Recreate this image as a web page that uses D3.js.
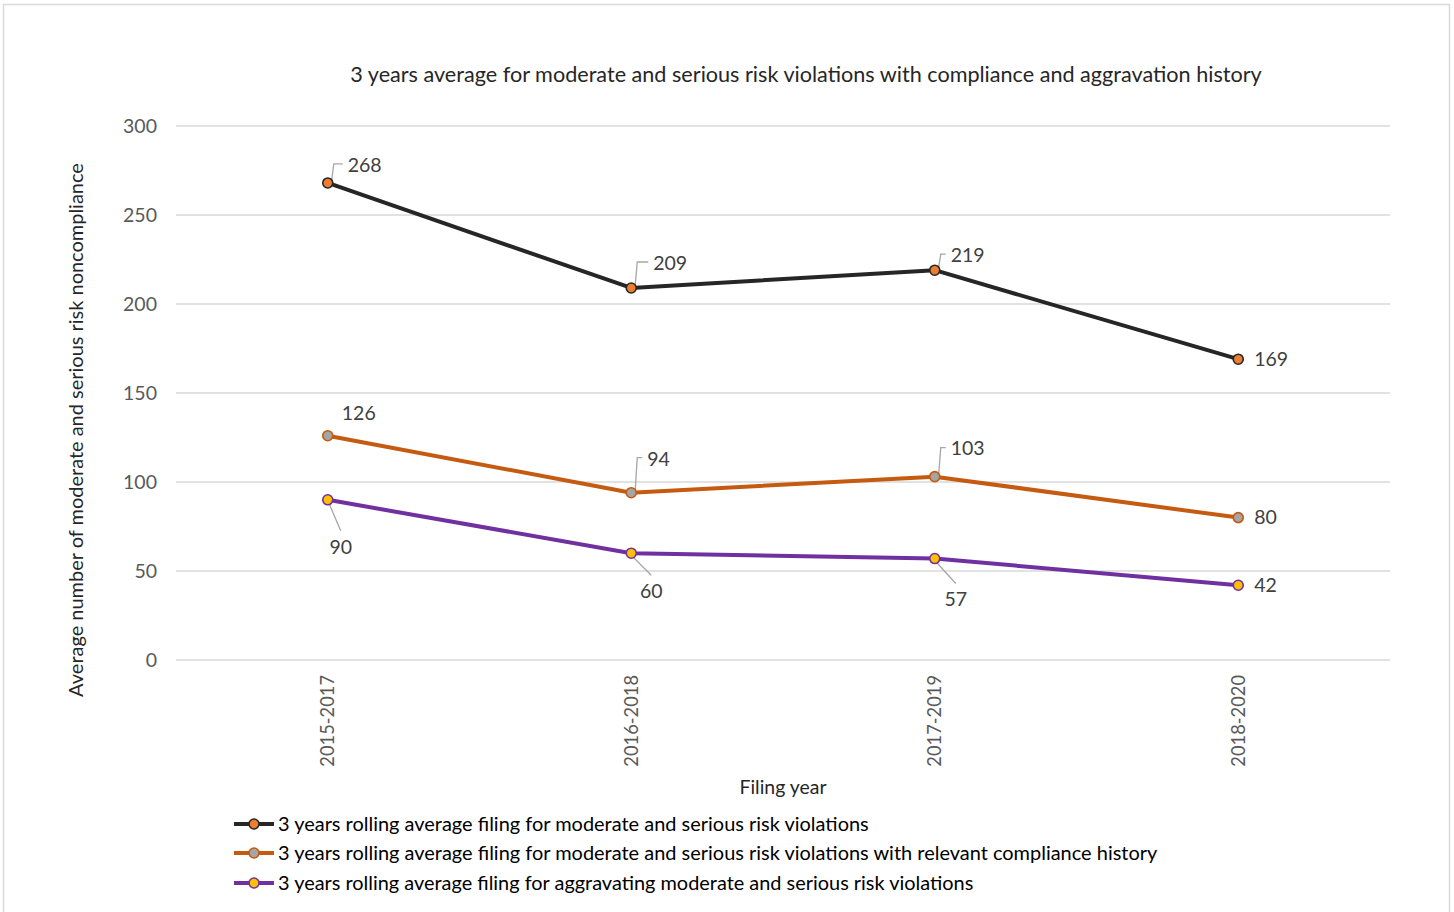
<!DOCTYPE html>
<html>
<head>
<meta charset="utf-8">
<script src="https://cdn.jsdelivr.net/npm/d3@7"></script>
<style>
  body { margin: 0; background: #fff; }
  text { font-family: Lato, "Noto Sans", sans-serif; }
</style>
</head>
<body>
<div id="chart"></div>
<script>
// chart data
var categories = ["2015-2017", "2016-2018", "2017-2019", "2018-2020"];
var seriesNames = [
  "3 years rolling average filing for moderate and serious risk violations",
  "3 years rolling average filing for moderate and serious risk violations with relevant compliance history",
  "3 years rolling average filing for aggravating moderate and serious risk violations"
];
var totalViolations = [268, 209, 219, 169];
var complianceHistory = [126, 94, 103, 80];
var aggravating = [90, 60, 57, 42];
var yTicks = [0, 50, 100, 150, 200, 250, 300];

var titleText = "3 years average for moderate and serious risk violations with compliance and aggravation history";
var xTitle = "Filing year";
var yTitle = "Average number of moderate and serious risk noncompliance";

// label placement: [dx, dy, leader type]
var labelLayout = [
  [[20, -18, "elbow"], [22, -25, "elbow"], [16, -15, "elbow"], [16, 0, "right"]],
  [[31, -23, "none"], [16, -34, "elbow"], [16, -28, "elbow"], [16, 0, "right"]],
  [[13, 47, "diag"], [20, 38, "diag"], [21, 41, "diag"], [16, 0, "right"]]
];

var lineColors = ["#262626", "#C55A11", "#7030A0"];
var markerFill = ["#ED7D31", "#A5A5A5", "#FFC000"];
var allSeries = [totalViolations, complianceHistory, aggravating];

var W = 1454, H = 912;
var plot = { left: 176, right: 1390, top: 126, bottom: 660 };

var svg = d3.select("#chart").append("svg")
  .attr("width", W).attr("height", H);

// outer frame
svg.append("rect")
  .attr("x", 3.5).attr("y", 4.5)
  .attr("width", 1446).attr("height", 920)
  .attr("fill", "#fff").attr("stroke", "#d9d9d9").attr("stroke-width", 1.5);

function fitText(sel, width) {
  var len = sel.node().getComputedTextLength();
  var fs = parseFloat(sel.attr("font-size"));
  sel.attr("font-size", fs * width / len);
}

var x = d3.scaleBand().domain(categories).range([plot.left, plot.right]);
var xc = function (c) { return x(c) + x.bandwidth() / 2; };
var y = d3.scaleLinear().domain([0, 300]).range([plot.bottom, plot.top]);

// gridlines
svg.append("g")
  .selectAll("line")
  .data(yTicks)
  .enter()
  .append("line")
  .attr("x1", plot.left).attr("x2", plot.right)
  .attr("y1", function (d) { return y(d); })
  .attr("y2", function (d) { return y(d); })
  .attr("stroke", "#d9d9d9").attr("stroke-width", 1.3);

// y axis labels
var yAxis = svg.append("g")
  .attr("transform", "translate(" + (plot.left - 10) + ",0)")
  .call(d3.axisLeft(y).tickValues(yTicks).tickSize(0).tickPadding(9));
yAxis.select(".domain").remove();
yAxis.selectAll("text")
  .attr("font-size", 19.5).attr("fill", "#595959")
  .style("font-family", "Lato, 'Noto Sans', sans-serif");

// x axis labels (rotated)
var xAxis = svg.append("g")
  .attr("transform", "translate(0," + plot.bottom + ")")
  .call(d3.axisBottom(x).tickSize(0).tickPadding(0));
xAxis.select(".domain").remove();
xAxis.selectAll("text")
  .attr("font-size", 18.3).attr("fill", "#595959")
  .style("font-family", "Lato, 'Noto Sans', sans-serif")
  .attr("transform", "rotate(-90)")
  .attr("text-anchor", "end")
  .attr("x", -15).attr("y", 0).attr("dy", "0.35em");

// titles
var t = svg.append("text")
  .attr("x", 806).attr("y", 82)
  .attr("text-anchor", "middle")
  .attr("font-size", 19).attr("fill", "#262626")
  .text(titleText);
fitText(t, 912);

var xt = svg.append("text")
  .attr("x", 783).attr("y", 794)
  .attr("text-anchor", "middle")
  .attr("font-size", 18).attr("fill", "#262626")
  .text(xTitle);
fitText(xt, 87);

var yt = svg.append("text")
  .attr("transform", "translate(83,430) rotate(-90)")
  .attr("text-anchor", "middle")
  .attr("font-size", 18).attr("fill", "#262626")
  .text(yTitle);
fitText(yt, 534);

// lines
var line = d3.line()
  .x(function (d, i) { return xc(categories[i]); })
  .y(function (d) { return y(d); });

allSeries.forEach(function (values, s) {
  svg.append("path")
    .datum(values)
    .attr("d", line)
    .attr("fill", "none")
    .attr("stroke", lineColors[s])
    .attr("stroke-width", 4)
    .attr("stroke-linejoin", "round");
});

// leader lines, markers and labels
allSeries.forEach(function (values, s) {
  var g = svg.append("g");
  values.forEach(function (v, i) {
    var px = xc(categories[i]), py = y(v);
    var lay = labelLayout[s][i];
    var lx = px + lay[0], ly = py + lay[1];
    if (lay[2] === "elbow") {
      g.append("path")
        .attr("d", "M" + (px + 4) + "," + (py - 3) + "L" + (px + 6) + "," + (ly - 1) + "L" + (lx - 5) + "," + (ly - 1))
        .attr("fill", "none").attr("stroke", "#a6a6a6").attr("stroke-width", 1.3);
    } else if (lay[2] === "diag") {
      g.append("line")
        .attr("x1", px + 1).attr("y1", py + 3)
        .attr("x2", lx).attr("y2", ly - 16)
        .attr("stroke", "#a6a6a6").attr("stroke-width", 1.3);
    }
    g.append("circle")
      .attr("cx", px).attr("cy", py).attr("r", 5)
      .attr("fill", markerFill[s])
      .attr("stroke", lineColors[s]).attr("stroke-width", 1.6);
    g.append("text")
      .attr("x", lx).attr("y", ly)
      .attr("dy", "0.35em")
      .attr("text-anchor", (lay[2] === "none" || lay[2] === "diag") ? "middle" : "start")
      .attr("font-size", 19.5).attr("fill", "#404040")
      .text(v);
  });
});

// legend
var legendY = [824, 853, 883];
var legendWidths = [591, 880, 696];
seriesNames.forEach(function (name, s) {
  var g = svg.append("g").attr("transform", "translate(234," + legendY[s] + ")");
  g.append("line")
    .attr("x1", 0).attr("x2", 40)
    .attr("stroke", lineColors[s]).attr("stroke-width", 4);
  g.append("circle")
    .attr("cx", 20).attr("cy", 0).attr("r", 5)
    .attr("fill", markerFill[s])
    .attr("stroke", lineColors[s]).attr("stroke-width", 1.6);
  var lt = g.append("text")
    .attr("x", 44).attr("y", 0).attr("dy", "0.35em")
    .attr("font-size", 19).attr("fill", "#000")
    .text(name);
  fitText(lt, legendWidths[s]);
});
</script>
</body>
</html>
